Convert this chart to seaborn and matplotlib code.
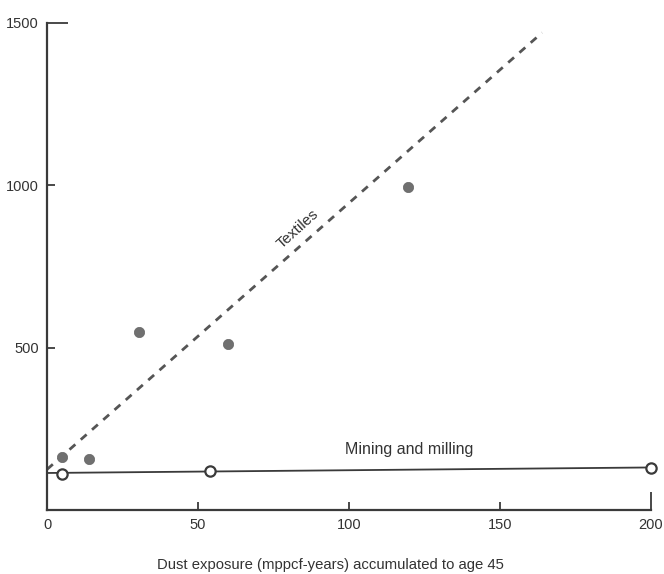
import matplotlib
matplotlib.use("Agg")
import matplotlib.pyplot as plt
import seaborn as sns
import pandas as pd

# Data
textile_x = [5, 14, 30.5, 60, 119.5]
textile_y = [164, 158, 548, 510, 995]
mining_x = [5, 54, 200]
mining_y = [112, 121, 130]
textile_fit_x = [0, 164]
textile_fit_y = [125, 1470]
mining_fit_x = [0, 200]
mining_fit_y = [114, 131]
x_ticks = [0, 50, 100, 150, 200]
y_ticks = [500, 1000, 1500]
x_label = "Dust exposure (mppcf-years) accumulated to age 45"

sns.set_style("ticks")
plt.rcParams['font.family'] = ['Liberation Sans', 'DejaVu Sans']

fig = plt.figure(figsize=(6.64, 5.74), dpi=100)
ax = fig.add_axes([0.0708, 0.1115, 0.9092, 0.8485])

ink = "#3a3a3a"

sns.lineplot(x=textile_fit_x, y=textile_fit_y, ax=ax, color="#555555",
             linewidth=2.0, linestyle=(0, (2.8, 2.6)))
sns.lineplot(x=mining_fit_x, y=mining_fit_y, ax=ax, color=ink, linewidth=1.3)
sns.scatterplot(x=textile_x, y=textile_y, ax=ax, color="#707070", s=55,
                edgecolor="#666666", linewidth=0.5, zorder=5)
sns.scatterplot(x=mining_x, y=mining_y, ax=ax, facecolor="white", s=55,
                edgecolor=ink, linewidth=1.6, zorder=5, clip_on=False)

ax.set_xlim(0, 200)
ax.set_ylim(0, 1500)
ax.set_xticks(x_ticks)
ax.set_yticks(y_ticks)
ax.set_xticklabels([str(v) for v in x_ticks])
ax.set_yticklabels([str(v) for v in y_ticks])

for s in ["top", "right"]:
    ax.spines[s].set_visible(False)
for s in ["left", "bottom"]:
    ax.spines[s].set_color(ink)
    ax.spines[s].set_linewidth(1.6)

ax.tick_params(axis="both", direction="in", length=6, width=1.3, color=ink,
               labelsize=10.5, labelcolor="#333333", pad=6)
ax.tick_params(axis="y", pad=6)
# longer ticks at 1500 and 200
ax.yaxis.get_major_ticks()[-1].tick1line.set_markersize(15)
ax.xaxis.get_major_ticks()[-1].tick1line.set_markersize(13)
ax.xaxis.get_major_ticks()[0].tick1line.set_markersize(0)

ax.set_xlabel(x_label, fontsize=10.7, color="#333333", va="center")
ax.xaxis.set_label_coords(0.47, -0.112)
ax.set_ylabel("")

ax.text(83, 866, "Textiles", rotation=42, ha="center", va="center",
        fontsize=11, color="#333333")
ax.text(120, 185, "Mining and milling", ha="center", va="center",
        fontsize=11.5, color="#333333")

fig.savefig("out.png", dpi=100, facecolor="white")
